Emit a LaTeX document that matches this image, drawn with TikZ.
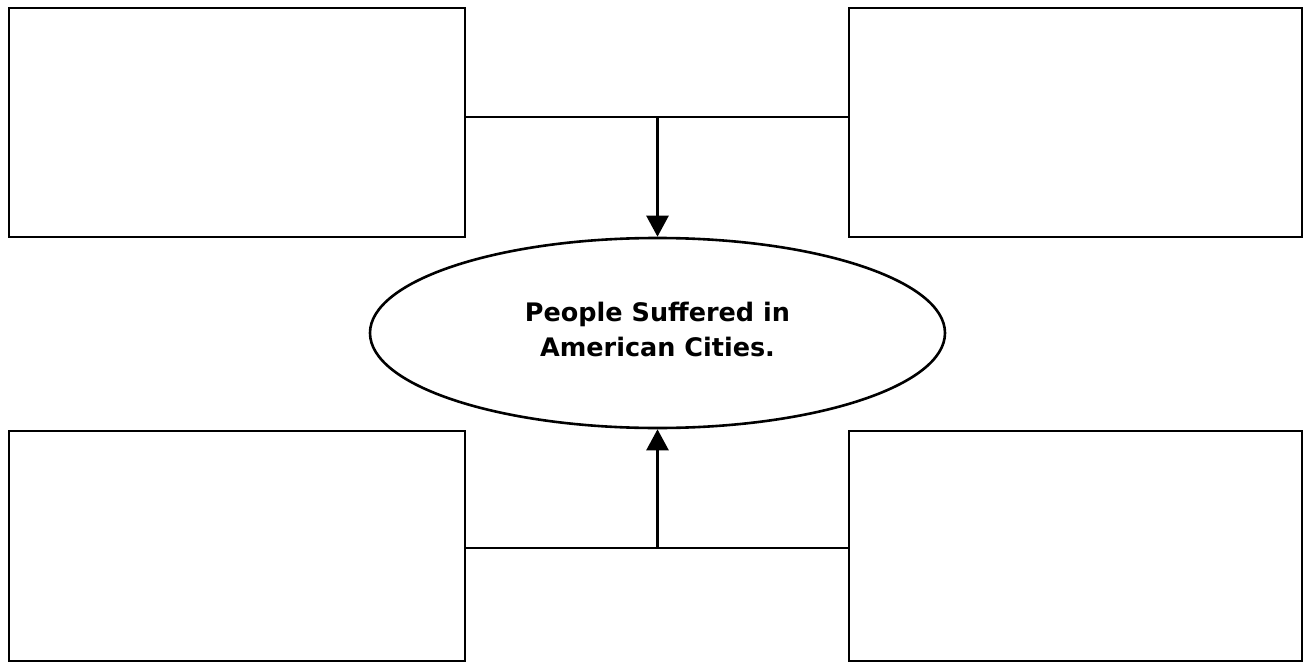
\documentclass[tikz,border=0pt]{standalone}
\usepackage{fontspec}
\setmainfont{DejaVu Sans}
\usetikzlibrary{arrows.meta,shapes.geometric}
\begin{document}
\begin{tikzpicture}[x=1pt,y=-1pt,
  box/.style={draw,line width=2.6pt},
  conn/.style={line width=2.6pt},
  arr/.style={line width=2.6pt,-{Triangle[length=21pt,width=22pt]}}]
\useasboundingbox (0,0) rectangle (1310,669);
\draw[box] (9,8) rectangle (465,237);
\draw[box] (849,8) rectangle (1302,237);
\draw[box] (9,431) rectangle (465,661);
\draw[box] (849,431) rectangle (1302,661);
\node[draw,ellipse,line width=2.6pt,minimum width=575pt,minimum height=190pt,inner sep=0] (c) at (657.5,333) {};
\node[inner sep=0,font=\bfseries\fontsize{25.5}{35}\selectfont,align=center] (lbl) at (657.5,329)
  {People Suffered in\\American Cities.};
\coordinate (t1) at (465,117);
\coordinate (t2) at (849,117);
\coordinate (tm) at (657.5,117);
\coordinate (b1) at (465,548);
\coordinate (b2) at (849,548);
\coordinate (bm) at (657.5,548);
\draw[conn] (t1) -- (t2);
\draw[conn] (b1) -- (b2);
\draw[arr] (tm) -- (c.north);
\draw[arr] (bm) -- (c.south);
\end{tikzpicture}
\end{document}
